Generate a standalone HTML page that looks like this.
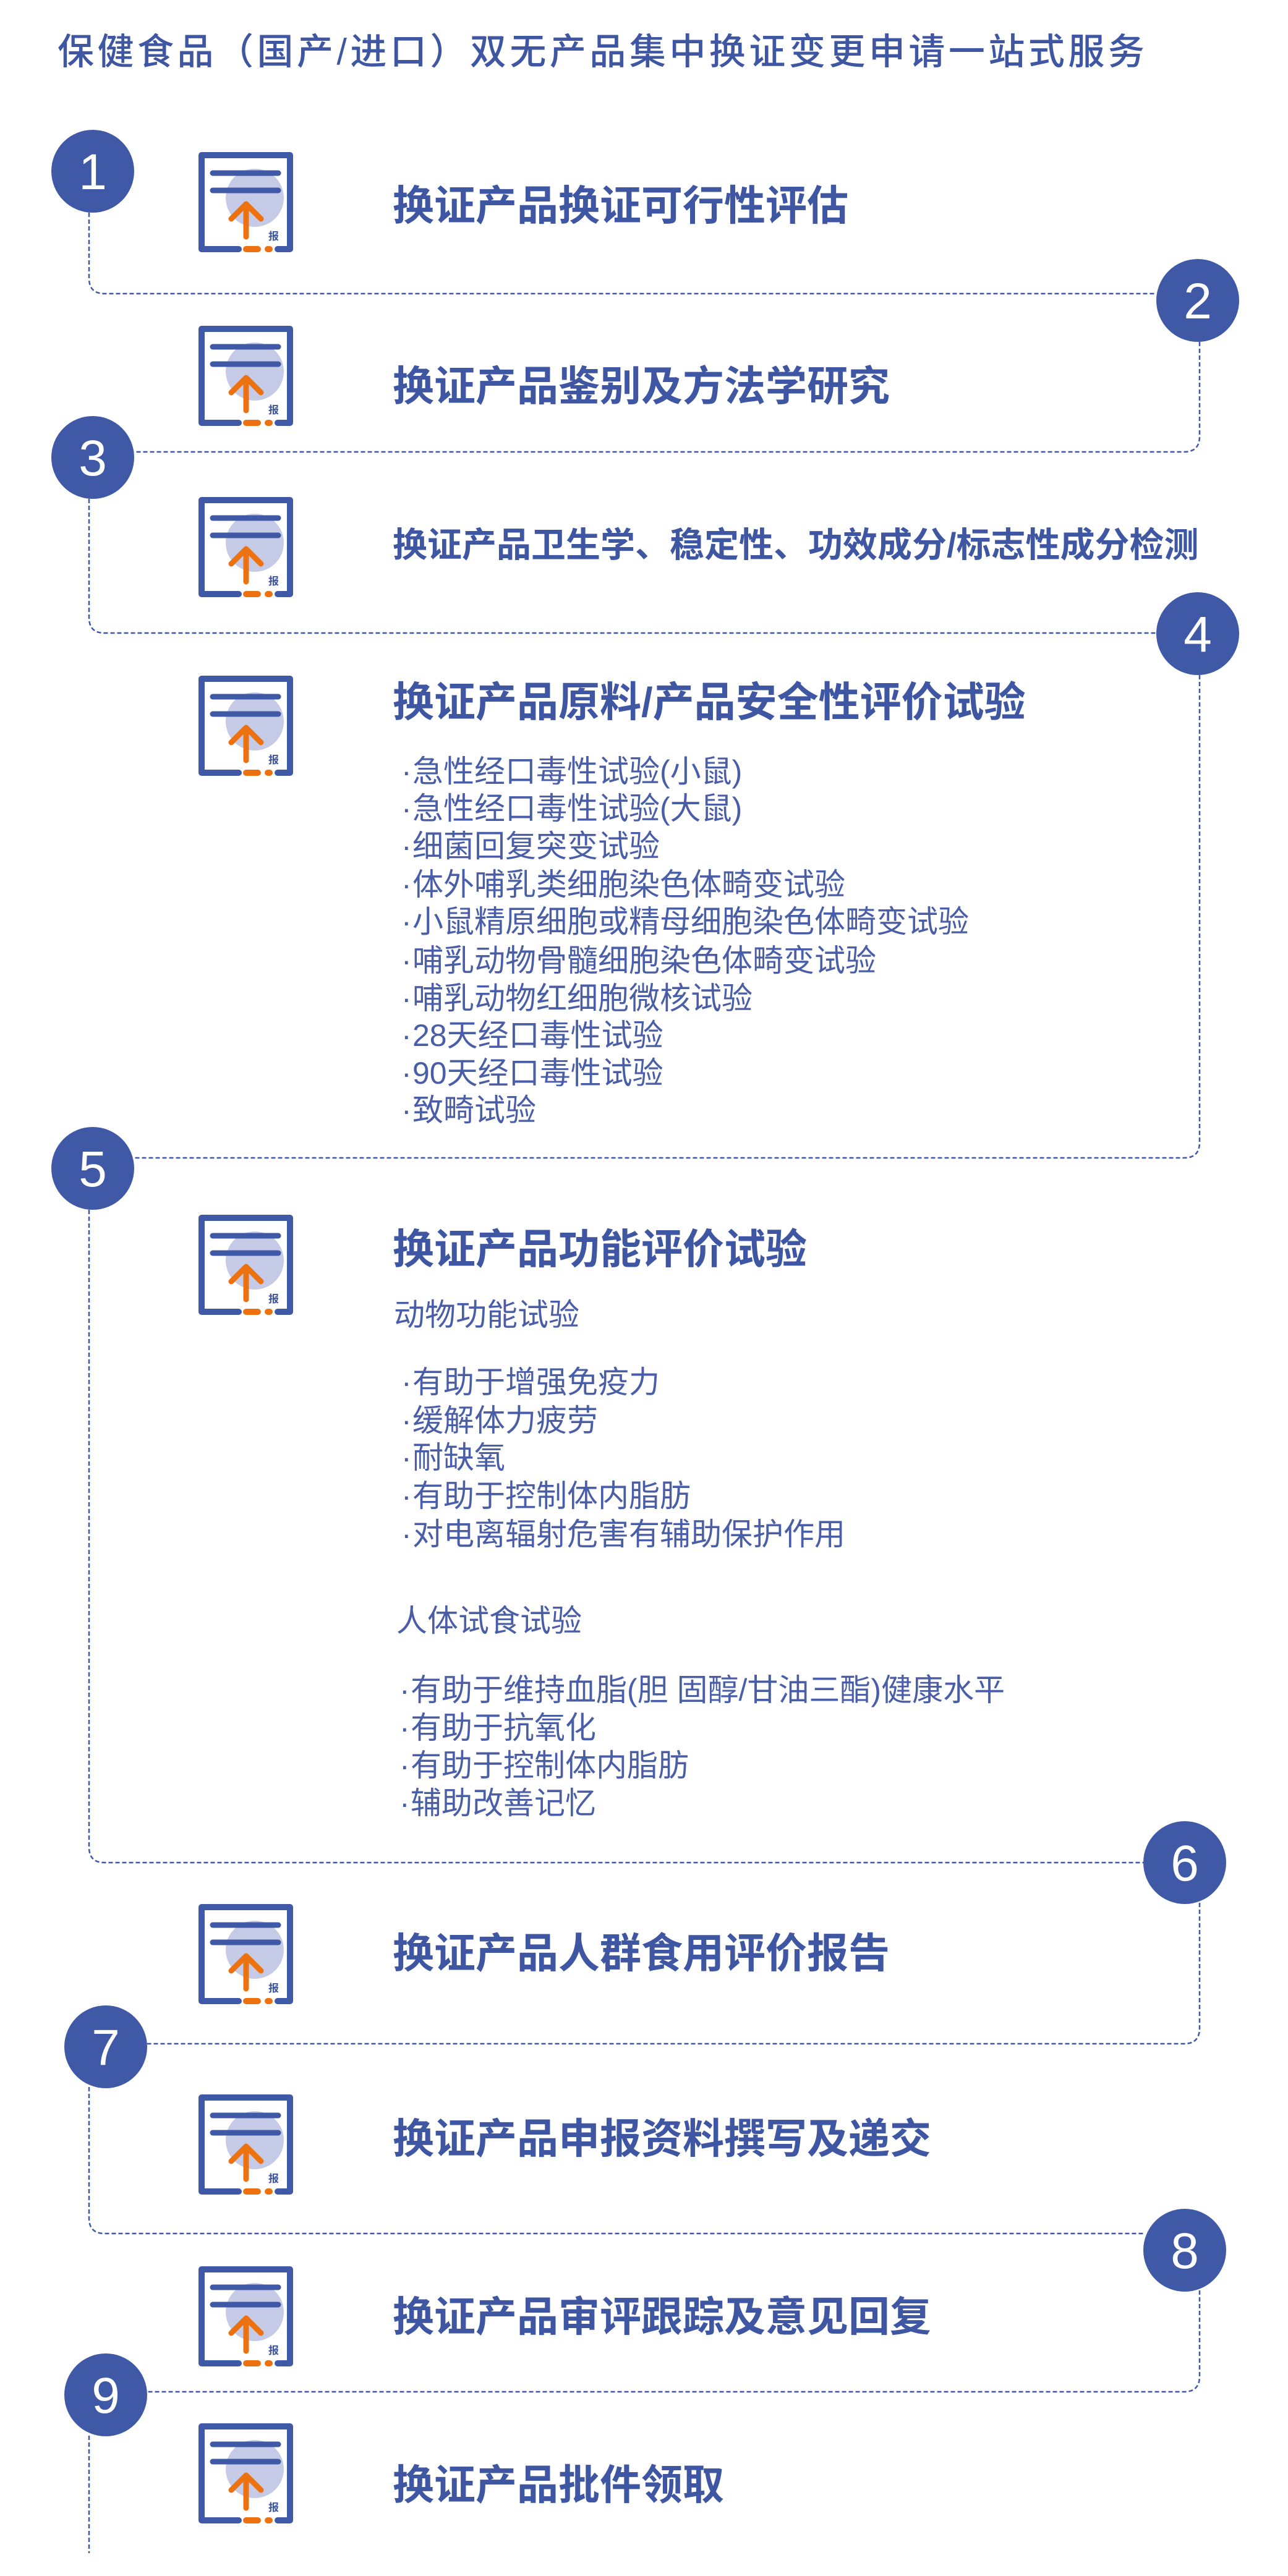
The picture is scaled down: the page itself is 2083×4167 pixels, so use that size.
<!DOCTYPE html>
<html><head><meta charset="utf-8">
<style>
html,body{margin:0;padding:0;background:#fff;}
body{width:2083px;height:4167px;position:relative;overflow:hidden;font-family:"Liberation Sans","Noto Sans CJK SC",sans-serif;color:#3f56a3;}
.a{position:absolute;white-space:nowrap;line-height:1;}
.h{font-size:67px;font-weight:700;left:635px;}
.s{font-size:50px;color:#4a5ea8;left:667px;}
.s::before{content:"·";position:absolute;left:-18px;}
.g{font-size:50px;color:#4a5ea8;}
svg{position:absolute;left:0;top:0;}
</style></head><body>
<svg width="2083" height="4167" viewBox="0 0 2083 4167">
<defs>
<g id="ic">
<circle cx="91" cy="74" r="47" fill="#c5cbe6"/>
<path d="M65 157 L5 157 L5 5 L148 5 L148 157 L128 157" fill="none" stroke="#4059a6" stroke-width="10" stroke-linecap="round" stroke-linejoin="round"/>
<line x1="23" y1="34" x2="129" y2="34" stroke="#4059a6" stroke-width="9" stroke-linecap="round"/>
<line x1="23" y1="62" x2="129" y2="62" stroke="#4059a6" stroke-width="9" stroke-linecap="round"/>
<line x1="77" y1="157" x2="96" y2="157" stroke="#ec7211" stroke-width="10" stroke-linecap="round"/>
<line x1="112" y1="157" x2="115" y2="157" stroke="#ec7211" stroke-width="10" stroke-linecap="round"/>
<path d="M77 137 V86 M53 108 L77 84 L101 108" fill="none" stroke="#ec7211" stroke-width="9" stroke-linecap="round" stroke-linejoin="round"/>
<text x="113" y="142" font-size="17" font-weight="700" fill="#3f56a3" font-family="Noto Sans CJK SC, sans-serif">报</text>
</g>
</defs>
<g fill="none" stroke="#4059a6" stroke-width="2.5" stroke-dasharray="7 4">
<path d="M144 344 V450 Q144 475 169 475 H1870"/>
<path d="M1940 553 V706 Q1940 731 1915 731 H216"/>
<path d="M144 807 V999 Q144 1024 169 1024 H1870"/>
<path d="M1940 1092 V1848 Q1940 1873 1915 1873 H216"/>
<path d="M144 1957 V2988 Q144 3013 169 3013 H1849"/>
<path d="M1940 3078 V3281 Q1940 3306 1915 3306 H238"/>
<path d="M144 3376 V3588 Q144 3613 169 3613 H1850"/>
<path d="M1940 3705 V3844 Q1940 3869 1915 3869 H238"/>
<path d="M144 3940 V4130"/>
</g>
<g fill="#4059a6">
<circle cx="150" cy="277" r="67"/><circle cx="1937" cy="486" r="67"/>
<circle cx="150" cy="740" r="67"/><circle cx="1937" cy="1025" r="67"/>
<circle cx="150" cy="1890" r="67"/><circle cx="1916" cy="3013" r="67"/>
<circle cx="171" cy="3311" r="67"/><circle cx="1916" cy="3640" r="67"/>
<circle cx="171" cy="3874" r="67"/>
</g>
<g fill="#fff" font-family="Liberation Sans, sans-serif" font-size="82" text-anchor="middle">
<text x="150" y="306">1</text><text x="1937" y="515">2</text>
<text x="150" y="769">3</text><text x="1937" y="1054">4</text>
<text x="150" y="1919">5</text><text x="1916" y="3042">6</text>
<text x="171" y="3340">7</text><text x="1916" y="3669">8</text>
<text x="171" y="3903">9</text>
</g>
<use href="#ic" transform="translate(321,246)"/>
<use href="#ic" transform="translate(321,527)"/>
<use href="#ic" transform="translate(321,804)"/>
<use href="#ic" transform="translate(321,1093)"/>
<use href="#ic" transform="translate(321,1965)"/>
<use href="#ic" transform="translate(321,3080)"/>
<use href="#ic" transform="translate(321,3388)"/>
<use href="#ic" transform="translate(321,3666)"/>
<use href="#ic" transform="translate(321,3920)"/>
</svg>

<div class="a" style="left:93px;top:55px;font-size:59px;font-weight:500;letter-spacing:5.5px;">保健食品（国产/进口）双无产品集中换证变更申请一站式服务</div>

<div class="a h" style="top:300px;">换证产品换证可行性评估</div>
<div class="a h" style="top:592px;">换证产品鉴别及方法学研究</div>
<div class="a h" style="top:854px;font-size:56px;">换证产品卫生学、稳定性、功效成分/标志性成分检测</div>
<div class="a h" style="top:1103px;">换证产品原料/产品安全性评价试验</div>

<div class="a s" style="top:1223px;">急性经口毒性试验(小鼠)</div>
<div class="a s" style="top:1283px;">急性经口毒性试验(大鼠)</div>
<div class="a s" style="top:1344px;">细菌回复突变试验</div>
<div class="a s" style="top:1406px;">体外哺乳类细胞染色体畸变试验</div>
<div class="a s" style="top:1466px;">小鼠精原细胞或精母细胞染色体畸变试验</div>
<div class="a s" style="top:1529px;">哺乳动物骨髓细胞染色体畸变试验</div>
<div class="a s" style="top:1590px;">哺乳动物红细胞微核试验</div>
<div class="a s" style="top:1650px;">28天经口毒性试验</div>
<div class="a s" style="top:1711px;">90天经口毒性试验</div>
<div class="a s" style="top:1771px;">致畸试验</div>

<div class="a h" style="top:1988px;">换证产品功能评价试验</div>
<div class="a g" style="left:637px;top:2102px;">动物功能试验</div>
<div class="a s" style="top:2211px;">有助于增强免疫力</div>
<div class="a s" style="top:2273px;">缓解体力疲劳</div>
<div class="a s" style="top:2333px;">耐缺氧</div>
<div class="a s" style="top:2395px;">有助于控制体内脂肪</div>
<div class="a s" style="top:2457px;">对电离辐射危害有辅助保护作用</div>
<div class="a g" style="left:641px;top:2597px;">人体试食试验</div>
<div class="a s" style="left:664px;top:2709px;">有助于维持血脂(胆 固醇/甘油三酯)健康水平</div>
<div class="a s" style="left:664px;top:2770px;">有助于抗氧化</div>
<div class="a s" style="left:664px;top:2831px;">有助于控制体内脂肪</div>
<div class="a s" style="left:664px;top:2892px;">辅助改善记忆</div>

<div class="a h" style="top:3127px;">换证产品人群食用评价报告</div>
<div class="a h" style="top:3427px;">换证产品申报资料撰写及递交</div>
<div class="a h" style="top:3715px;">换证产品审评跟踪及意见回复</div>
<div class="a h" style="top:3987px;">换证产品批件领取</div>
</body></html>
